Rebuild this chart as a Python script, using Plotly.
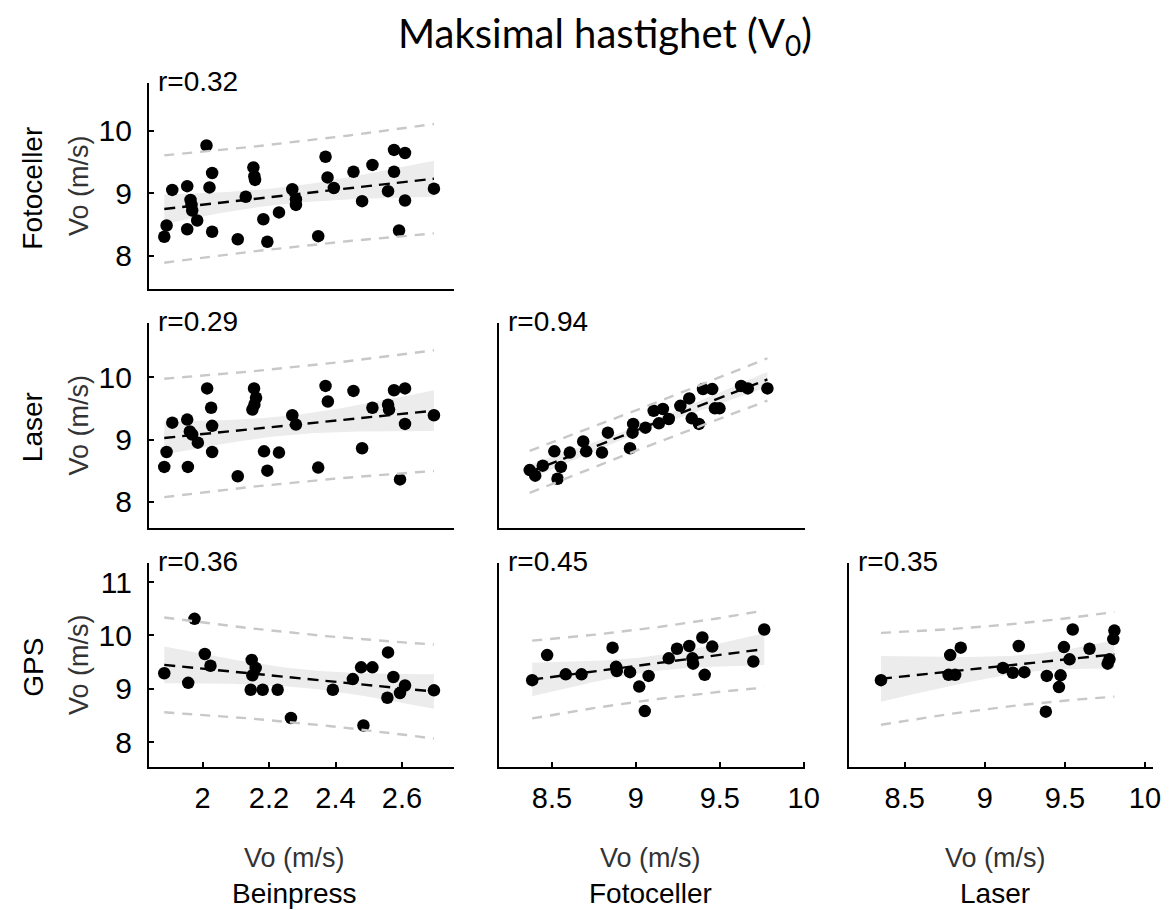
import numpy as np
import plotly.graph_objects as go

W, H = 1173, 910

# ---------------- data ----------------
# Beinpress (x) vs Fotoceller (y)
beinpress_a = [1.885,1.892,1.909,1.954,1.954,1.964,1.967,1.969,1.984,2.012,2.021,2.029,2.029,2.106,2.130,2.153,2.156,2.158,2.183,2.195,2.230,2.270,2.281,2.281,2.348,2.370,2.376,2.395,2.454,2.480,2.511,2.558,2.576,2.576,2.591,2.609,2.609,2.696]
fotoceller_a = [8.30,8.48,9.05,9.11,8.42,8.89,8.81,8.72,8.56,9.76,9.09,9.32,8.38,8.26,8.94,9.41,9.27,9.21,8.58,8.22,8.69,9.06,8.90,8.81,8.31,9.58,9.25,9.08,9.34,8.87,9.45,9.03,9.34,9.69,8.40,9.64,8.88,9.07]

# Beinpress (x) vs Laser (y)
beinpress_b = [1.885,1.892,1.909,1.954,1.956,1.962,1.969,1.986,2.014,2.026,2.029,2.029,2.106,2.155,2.161,2.156,2.150,2.185,2.195,2.230,2.270,2.281,2.348,2.370,2.377,2.454,2.480,2.511,2.558,2.561,2.576,2.594,2.609,2.609,2.696]
laser_b = [8.56,8.80,9.27,9.32,8.56,9.13,9.08,8.95,9.82,9.51,9.22,8.80,8.41,9.82,9.67,9.56,9.48,8.81,8.50,8.79,9.39,9.24,8.55,9.86,9.61,9.78,8.86,9.51,9.56,9.48,9.79,8.36,9.82,9.25,9.39]

# Beinpress (x) vs GPS (y)
beinpress_c = [1.885,1.957,1.976,2.007,2.024,2.148,2.160,2.150,2.145,2.181,2.226,2.266,2.392,2.452,2.477,2.511,2.484,2.558,2.574,2.556,2.594,2.609,2.696]
gps_c = [9.29,9.11,10.31,9.65,9.43,9.54,9.39,9.25,8.98,8.98,8.98,8.45,8.98,9.18,9.40,9.40,8.31,9.68,9.22,8.83,8.92,9.06,8.97]

# Fotoceller (x) vs Laser (y)
fotoceller_d = [8.367,8.400,8.445,8.514,8.553,8.533,8.606,8.686,8.704,8.798,8.833,8.965,8.984,8.980,9.057,9.106,9.137,9.161,9.196,9.265,9.318,9.333,9.376,9.400,9.455,9.471,9.498,9.627,9.667,9.784]
laser_d = [8.51,8.42,8.58,8.81,8.56,8.37,8.79,8.97,8.81,8.79,9.11,8.86,9.25,9.11,9.19,9.46,9.26,9.49,9.33,9.54,9.66,9.34,9.25,9.81,9.81,9.50,9.50,9.86,9.82,9.82]

# Fotoceller (x) vs GPS (y)
fotoceller_e = [8.382,8.471,8.582,8.676,8.861,8.882,8.886,8.965,9.020,9.053,9.076,9.196,9.245,9.318,9.337,9.341,9.396,9.410,9.455,9.700,9.765]
gps_e = [9.16,9.63,9.27,9.27,9.77,9.41,9.33,9.31,9.04,8.58,9.24,9.57,9.75,9.80,9.57,9.47,9.96,9.26,9.79,9.51,10.11]

# Laser (x) vs GPS (y)
laser_f = [8.352,8.784,8.850,8.774,8.815,9.113,9.212,9.175,9.247,9.387,9.381,9.473,9.463,9.494,9.529,9.549,9.654,9.767,9.778,9.802,9.809]
gps_f = [9.16,9.63,9.77,9.26,9.26,9.39,9.80,9.30,9.31,9.24,8.57,9.25,9.03,9.78,9.55,10.11,9.75,9.47,9.55,9.93,10.09]

r_labels = ["r=0.32", "r=0.29", "r=0.36", "r=0.94", "r=0.45", "r=0.35"]
row_labels = ["Fotoceller", "Laser", "GPS"]
col_labels = ["Beinpress", "Fotoceller", "Laser"]
axis_title = "Vo (m/s)"
ticks_beinpress = [2, 2.2, 2.4, 2.6]
ticks_speed_x = [8.5, 9, 9.5, 10]
ticks_y_top = [8, 9, 10]
ticks_y_bottom = [8, 9, 10, 11]

# ---------------- layout geometry (pixels) ----------------
col_px = [(143, 452), (497, 807), (852, 1160)]
row_px = [(75, 281), (315, 520), (555, 759)]
x_ranges = [[1.8396, 2.757], [8.182, 10.006], [8.153, 10.051]]
y_ranges = [[7.464, 10.76], [7.58, 10.87], [7.532, 11.357]]

panels = [
    dict(row=0, col=0, x=beinpress_a, y=fotoceller_a, r=r_labels[0]),
    dict(row=1, col=0, x=beinpress_b, y=laser_b, r=r_labels[1]),
    dict(row=2, col=0, x=beinpress_c, y=gps_c, r=r_labels[2]),
    dict(row=1, col=1, x=fotoceller_d, y=laser_d, r=r_labels[3]),
    dict(row=2, col=1, x=fotoceller_e, y=gps_e, r=r_labels[4]),
    dict(row=2, col=2, x=laser_f, y=gps_f, r=r_labels[5]),
]

def px2x(px):
    return px / W

def px2y(py):
    return 1 - py / H

def t_crit(df):
    return 1.96 + 2.4 / df

fig = go.Figure()
annotations = []
layout = {}

FONT = "Liberation Sans"

for i, p in enumerate(panels):
    k = i + 1
    xa = "x" if k == 1 else f"x{k}"
    ya = "y" if k == 1 else f"y{k}"
    x = np.array(p["x"], dtype=float)
    y = np.array(p["y"], dtype=float)
    n = len(x)
    b1, b0 = np.polyfit(x, y, 1)
    resid = y - (b0 + b1 * x)
    s = np.sqrt(np.sum(resid ** 2) / (n - 2))
    xm = x.mean()
    sxx = np.sum((x - xm) ** 2)
    t = t_crit(n - 2)
    xs = np.linspace(x.min(), x.max(), 60)
    yh = b0 + b1 * xs
    ci = t * s * np.sqrt(1 / n + (xs - xm) ** 2 / sxx)
    pi = t * s * np.sqrt(1 + 1 / n + (xs - xm) ** 2 / sxx)

    fig.add_trace(go.Scatter(
        x=np.concatenate([xs, xs[::-1]]), y=np.concatenate([yh + ci, (yh - ci)[::-1]]),
        fill="toself", fillcolor="rgb(236,236,236)", line=dict(width=0),
        mode="lines", hoverinfo="skip", xaxis=xa, yaxis=ya, showlegend=False))
    fig.add_trace(go.Scatter(
        x=x, y=y, mode="markers", marker=dict(color="black", size=12.5),
        xaxis=xa, yaxis=ya, showlegend=False))
    for yy in (yh + pi, yh - pi):
        fig.add_trace(go.Scatter(
            x=xs, y=yy, mode="lines",
            line=dict(color="rgb(200,200,200)", width=2.4, dash="10px,8px"),
            xaxis=xa, yaxis=ya, showlegend=False, hoverinfo="skip"))
    fig.add_trace(go.Scatter(
        x=xs, y=yh, mode="lines",
        line=dict(color="black", width=2.4, dash="11px,7px"),
        xaxis=xa, yaxis=ya, showlegend=False, hoverinfo="skip"))

    r, c = p["row"], p["col"]
    cx0, cx1 = col_px[c]
    ry0, ry1 = row_px[r]
    xkey = "xaxis" if k == 1 else f"xaxis{k}"
    ykey = "yaxis" if k == 1 else f"yaxis{k}"
    show_xt = (r == 2)
    show_yt = (c == 0)
    xt = ticks_beinpress if c == 0 else ticks_speed_x
    yt = ticks_y_bottom if r == 2 else ticks_y_top
    layout[xkey] = dict(
        domain=[px2x(cx0), px2x(cx1)], range=x_ranges[c], anchor=ya,
        showline=True, linecolor="black", linewidth=2.4, mirror=False,
        showgrid=False, zeroline=False,
        ticks="inside" if show_xt else "", ticklen=5, tickwidth=1.5, tickcolor="black",
        tickvals=xt if show_xt else [], showticklabels=show_xt,
        tickfont=dict(family=FONT, size=29, color="black"),
        ticklabelstandoff=4,
    )
    layout[ykey] = dict(
        domain=[px2y(ry1), px2y(ry0)], range=y_ranges[r], anchor=xa,
        showline=True, linecolor="black", linewidth=2.4, mirror=False,
        showgrid=False, zeroline=False,
        ticks="inside" if show_yt else "", ticklen=5, tickwidth=1.5, tickcolor="black",
        tickvals=yt if show_yt else [], showticklabels=show_yt,
        tickfont=dict(family=FONT, size=30, color="black"),
        ticklabelstandoff=9,
    )
    annotations.append(dict(
        text=p["r"], x=px2x(cx0 + 7), y=px2y(ry0 - 2), xref="paper", yref="paper",
        xanchor="left", yanchor="middle", showarrow=False,
        font=dict(family=FONT, size=28, color="black")))

# row labels and y-axis titles
for r in range(3):
    ry0, ry1 = row_px[r]
    cy = (ry0 + ry1) / 2
    annotations.append(dict(
        text=row_labels[r], x=px2x(25), y=px2y(cy + 2), xref="paper", yref="paper",
        xanchor="center", yanchor="middle", textangle=-90, showarrow=False,
        font=dict(family=FONT, size=28, color="black")))
    annotations.append(dict(
        text=axis_title, x=px2x(72), y=px2y(cy), xref="paper", yref="paper",
        xanchor="center", yanchor="middle", textangle=-90, showarrow=False,
        font=dict(family=FONT, size=27, color="#333333")))

# x-axis titles and column labels
col_centers = [290, 651, 1000]
for c in range(3):
    annotations.append(dict(
        text=axis_title, x=px2x(col_centers[c]), y=px2y(850), xref="paper", yref="paper",
        xanchor="center", yanchor="middle", showarrow=False,
        font=dict(family=FONT, size=27, color="#333333")))
    annotations.append(dict(
        text=col_labels[c], x=px2x(col_centers[c]), y=px2y(885), xref="paper", yref="paper",
        xanchor="center", yanchor="middle", showarrow=False,
        font=dict(family=FONT, size=28, color="black")))

annotations.append(dict(
    text="Maksimal hastighet (V<sub>0</sub>)", x=px2x(605), y=px2y(27),
    xref="paper", yref="paper", xanchor="center", yanchor="middle", showarrow=False,
    font=dict(family="Lato", size=40, color="black")))

fig.update_layout(
    width=W, height=H, margin=dict(l=0, r=0, t=0, b=0),
    paper_bgcolor="white", plot_bgcolor="white",
    annotations=annotations, showlegend=False, **layout)

fig.write_html("out.html")
